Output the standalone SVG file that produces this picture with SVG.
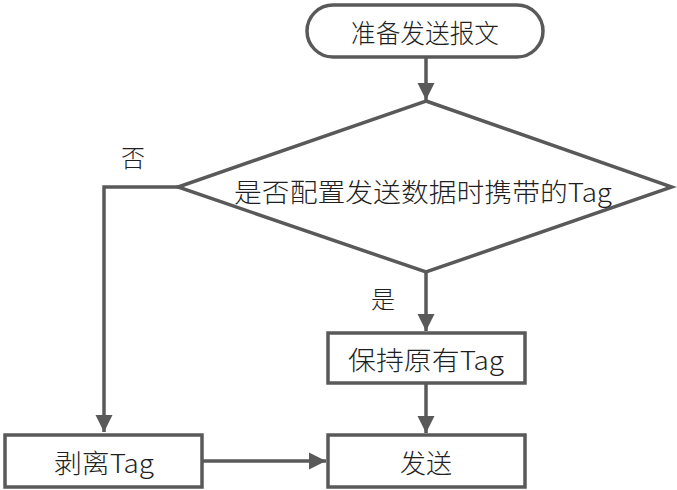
<svg xmlns="http://www.w3.org/2000/svg" width="677" height="490" viewBox="0 0 677 490">
<defs>
<marker id="arr" viewBox="0 0 10 10" refX="10" refY="5" markerWidth="5" markerHeight="5" markerUnits="strokeWidth" orient="auto">
<path d="M0,0 L10,5 L0,10 Z" fill="#595959"/>
</marker>
<style>
.shape{fill:#fff;stroke:#595959;stroke-width:3.5}
.conn{fill:none;stroke:#595959;stroke-width:3.5;marker-end:url(#arr)}
text{font-family:"Noto Sans CJK SC","Noto Sans",sans-serif;font-weight:300;fill:#1f1f1f;text-anchor:middle;dominant-baseline:central}
.t{font-size:26px}
.l{font-size:24px}
</style>
</defs>
<rect width="677" height="490" fill="#fff"/>
<g id="connectors">
<path class="conn" d="M426,57 L426,100"/>
<path class="conn" d="M178,187 L104,187 L104,432"/>
<path class="conn" d="M426,272 L426,331"/>
<path class="conn" d="M426,383 L426,433"/>
<path class="conn" d="M202,461 L326,461"/>
<text class="l" x="133" y="156">否</text>
<text class="l" x="383" y="297">是</text>
</g>
<g id="start">
<rect class="shape" x="307" y="5" width="236" height="52" rx="26" ry="26"/>
<text class="t" x="425" y="31" textLength="148" lengthAdjust="spacingAndGlyphs">准备发送报文</text>
</g>
<g id="decision">
<polygon class="shape" points="426,101 672,187 426,272 178,187"/>
<text class="t" x="423" y="190" textLength="378" lengthAdjust="spacingAndGlyphs">是否配置发送数据时携带的Tag</text>
</g>
<g id="keep">
<rect class="shape" x="328" y="333" width="197" height="50"/>
<text class="t" x="426" y="358" textLength="156" lengthAdjust="spacingAndGlyphs">保持原有Tag</text>
</g>
<g id="send">
<rect class="shape" x="328" y="435" width="197" height="52"/>
<text class="t" x="426" y="461">发送</text>
</g>
<g id="strip">
<rect class="shape" x="5" y="435" width="197" height="52"/>
<text class="t" x="104" y="461" textLength="100" lengthAdjust="spacingAndGlyphs">剥离Tag</text>
</g>
</svg>
